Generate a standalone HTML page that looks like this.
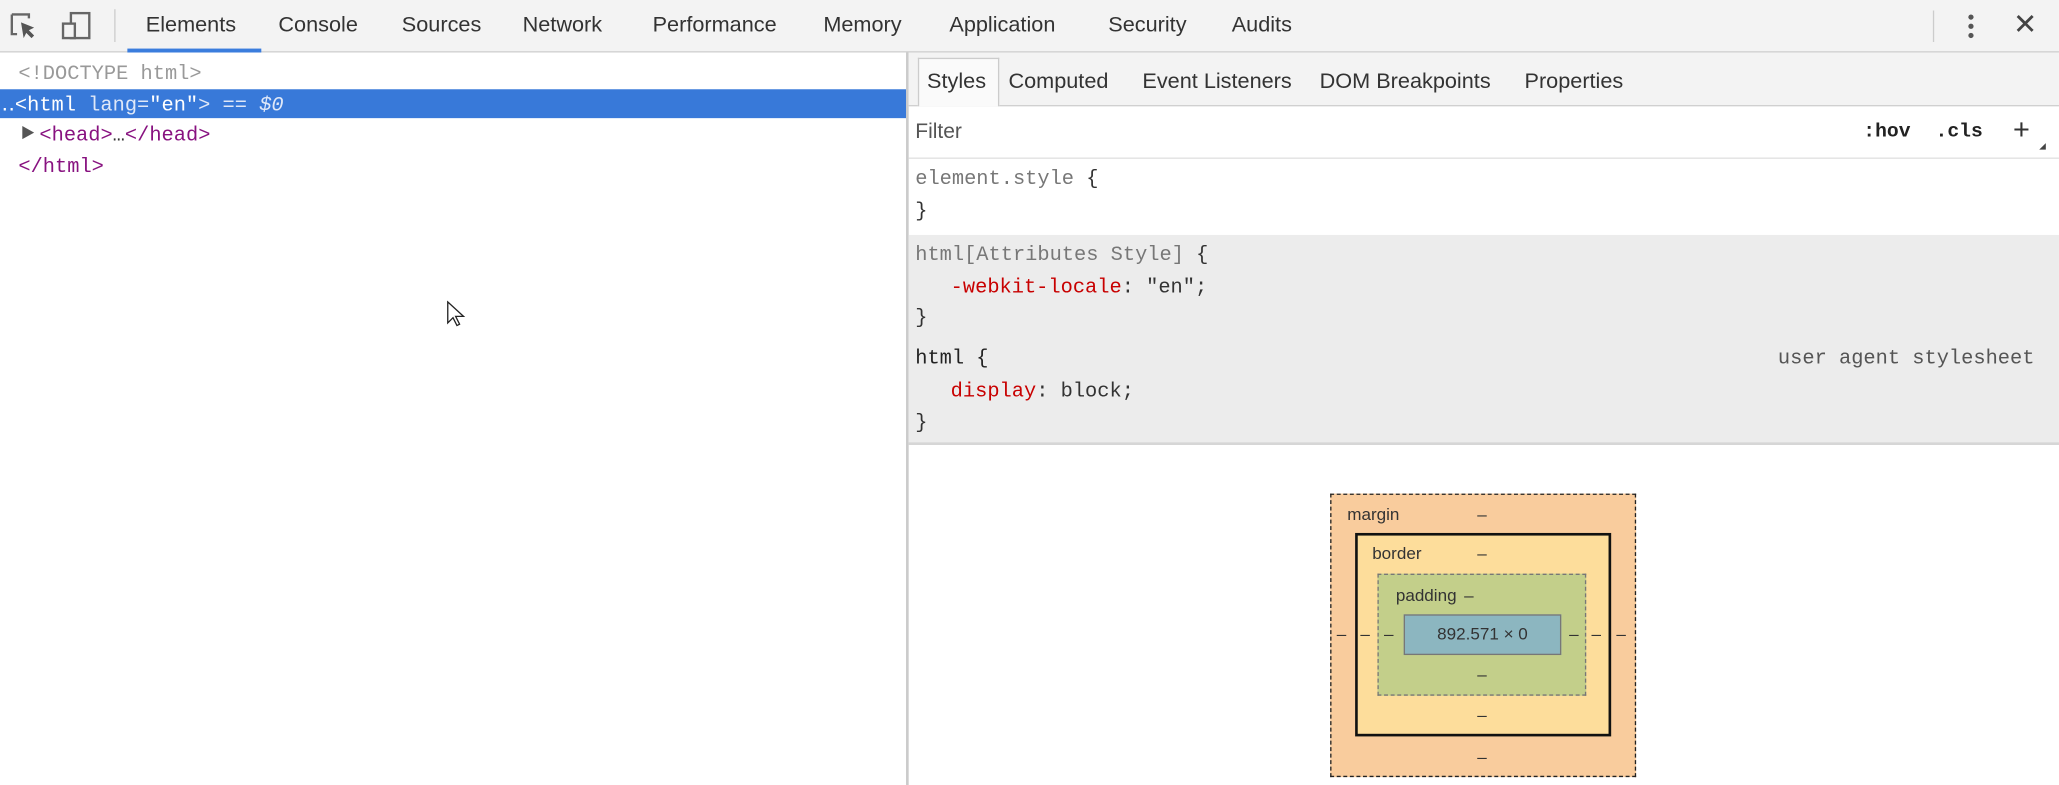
<!DOCTYPE html>
<html><head><meta charset="utf-8"><style>
*{margin:0;padding:0;box-sizing:border-box}
html,body{width:2059px;height:785px;overflow:hidden;background:#fff}
#w{position:absolute;left:0;top:0;width:1568px;height:598px;transform:scale(1.3131,1.3127);transform-origin:0 0;font-family:"Liberation Sans",sans-serif;color:#333}
.a{position:absolute;white-space:nowrap}
.t{font-size:16.5px;top:10px;color:#333}
.m{font-family:"Liberation Mono",monospace;font-size:15.5px}
.rt{font-size:16.5px;top:53px;color:#333}
.bm{font-size:13px;color:#333}
</style></head><body><div id="w">
<!-- toolbar -->
<div class="a" style="left:0;top:0;width:1568px;height:40px;background:#f3f3f3;border-bottom:1px solid #cfcfcf"></div>
<svg class="a" style="left:6px;top:8px" width="70" height="24">
<path d="M3 3h13v3M3 3v15h4" fill="none" stroke="#666" stroke-width="1.8"/>
<path d="M10 9l10 4-4 2 4 4-2 2-4-4-2 4z" fill="#555"/>
<rect x="48" y="2" width="14" height="19" fill="none" stroke="#666" stroke-width="1.8"/>
<rect x="42" y="10" width="9" height="11" fill="#f3f3f3" stroke="#666" stroke-width="1.8"/>
</svg>
<div class="a" style="left:87px;top:7px;width:1px;height:25px;background:#ccc"></div>
<div class="a t" style="left:111px">Elements</div>
<div class="a t" style="left:212px">Console</div>
<div class="a t" style="left:306px">Sources</div>
<div class="a t" style="left:398px">Network</div>
<div class="a t" style="left:497px">Performance</div>
<div class="a t" style="left:627px">Memory</div>
<div class="a t" style="left:723px">Application</div>
<div class="a t" style="left:844px">Security</div>
<div class="a t" style="left:938px">Audits</div>
<div class="a" style="left:97px;top:37px;width:102px;height:3px;background:#3b7ddd"></div>
<div class="a" style="left:1472px;top:8px;width:1px;height:24px;background:#ccc"></div>
<div class="a" style="left:1499px;top:11px;width:4px;height:4px;border-radius:2px;background:#555;box-shadow:0 7px 0 #555,0 14px 0 #555"></div>
<div class="a" style="left:1533px;top:6px;font-size:22px;color:#444">✕</div>
<!-- left panel -->
<div class="a m" style="left:14px;top:47px;color:#999">&lt;!DOCTYPE html&gt;</div>
<div class="a" style="left:0;top:68px;width:690px;height:22px;background:#3879d9"></div>
<div class="a m" style="left:1px;top:70px;color:#fff">‥&lt;html <span style="color:#dfe8f8">lang=</span>"en"<span style="color:#dfe8f8">&gt; == <i>$0</i></span></div>
<div class="a" style="left:17px;top:96px;width:0;height:0;border-left:9px solid #555;border-top:5px solid transparent;border-bottom:5px solid transparent"></div>
<div class="a m" style="left:30px;top:94px;color:#881280">&lt;head&gt;<span style="color:#333">…</span>&lt;/head&gt;</div>
<div class="a m" style="left:14px;top:118px;color:#881280">&lt;/html&gt;</div>
<svg class="a" style="left:340px;top:229px" width="16" height="22"><path d="M1 1v16l4-4 3 6 2-1-3-6h6z" fill="#fff" stroke="#222" stroke-width="1"/></svg>
<!-- divider -->
<div class="a" style="left:690px;top:40px;width:2px;height:558px;background:#cbcbcb"></div>
<!-- right panel -->
<div class="a" style="left:692px;top:40px;width:876px;height:41px;background:#f3f3f3;border-bottom:1px solid #d0d0d0"></div>
<div class="a" style="left:699px;top:44px;width:62px;height:37px;background:#fafafa;border:1px solid #ccc;border-bottom:none"></div>
<div class="a rt" style="left:706px">Styles</div>
<div class="a rt" style="left:768px">Computed</div>
<div class="a rt" style="left:870px">Event Listeners</div>
<div class="a rt" style="left:1005px">DOM Breakpoints</div>
<div class="a rt" style="left:1161px">Properties</div>
<div class="a" style="left:697px;top:92px;font-size:16px;color:#555">Filter</div>
<div class="a m" style="left:1419px;top:92px;color:#222;font-weight:bold;font-size:15px">:hov</div>
<div class="a m" style="left:1474px;top:92px;color:#222;font-weight:bold;font-size:15px">.cls</div>
<div class="a" style="left:1533px;top:86px;font-size:22px;color:#333">+</div>
<div class="a" style="left:1553px;top:109px;width:0;height:0;border-left:5px solid transparent;border-bottom:5px solid #444"></div>
<div class="a" style="left:692px;top:120px;width:876px;height:1px;background:#e0e0e0"></div>
<div class="a m" style="left:697px;top:127px;color:#777">element.style <span style="color:#333">{</span></div>
<div class="a m" style="left:697px;top:152px">}</div>
<div class="a" style="left:692px;top:179px;width:876px;height:160px;background:#ececec;border-bottom:2px solid #d6d6d6"></div>
<div class="a m" style="left:697px;top:185px;color:#777">html[Attributes Style] <span style="color:#333">{</span></div>
<div class="a m" style="left:724px;top:210px;color:#c80000">-webkit-locale<span style="color:#333">: "en";</span></div>
<div class="a m" style="left:697px;top:233px">}</div>
<div class="a m" style="left:697px;top:264px;color:#222">html {</div>
<div class="a m" style="left:1354px;top:264px;color:#555">user agent stylesheet</div>
<div class="a m" style="left:724px;top:289px;color:#c80000">display<span style="color:#333">: block;</span></div>
<div class="a m" style="left:697px;top:313px">}</div>
<!-- box model -->
<div class="a" style="left:1013px;top:376px;width:233px;height:216px;background:#f9cc9d;border:1.5px dashed #222"></div>
<div class="a" style="left:1032px;top:406px;width:195px;height:155px;background:#fddd9b;border:2px solid #111"></div>
<div class="a" style="left:1049px;top:437px;width:159px;height:93px;background:#c3cf8a;border:1.5px dashed #777"></div>
<div class="a" style="left:1069px;top:468px;width:120px;height:31px;background:#8cb6c0;border:1.5px solid #777"></div>
<div class="a bm" style="left:1026px;top:384px">margin</div>
<div class="a bm" style="left:1045px;top:414px">border</div>
<div class="a bm" style="left:1063px;top:446px">padding</div>
<div class="a bm" style="left:1069px;top:475px;width:120px;text-align:center">892.571 × 0</div>
<div class="a bm" style="left:1125px;top:384px">–</div>
<div class="a bm" style="left:1125px;top:414px">–</div>
<div class="a bm" style="left:1115px;top:446px">–</div>
<div class="a bm" style="left:1125px;top:506px">–</div>
<div class="a bm" style="left:1125px;top:537px">–</div>
<div class="a bm" style="left:1125px;top:569px">–</div>
<div class="a bm" style="left:1018px;top:475px">–</div>
<div class="a bm" style="left:1036px;top:475px">–</div>
<div class="a bm" style="left:1054px;top:475px">–</div>
<div class="a bm" style="left:1195px;top:475px">–</div>
<div class="a bm" style="left:1212px;top:475px">–</div>
<div class="a bm" style="left:1231px;top:475px">–</div>
</div></body></html>
